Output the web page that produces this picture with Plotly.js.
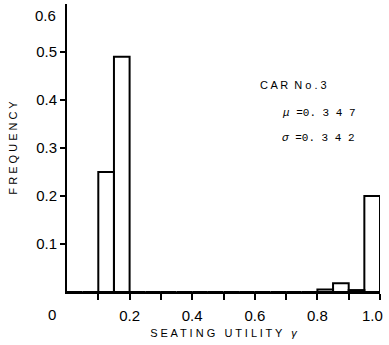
<!DOCTYPE html>
<html>
<head>
<meta charset="utf-8">
<script src="https://cdn.plot.ly/plotly-3.0.1.min.js"></script>
<style>html,body{margin:0;padding:0;background:#fff;}#chart{width:389px;height:345px;}</style>
</head>
<body>
<div id="chart"></div>
<script>
// Bin centres of seating utility gamma (bin width 0.05)
const binCenters = [0.025,0.075,0.125,0.175,0.225,0.275,0.325,0.375,0.425,0.475,
                    0.525,0.575,0.625,0.675,0.725,0.775,0.825,0.875,0.925,0.975];
const frequency  = [0,0,0.25,0.49,0,0,0,0,0,0,
                    0,0,0,0,0,0,0.005,0.018,0.004,0.2];
const binWidth = 0.05;

const xTickVals = [0.1,0.2,0.3,0.4,0.5,0.6,0.7,0.8,0.9,1.0];
const xTickText = ["","0.2","","0.4","","0.6","","0.8","",""];
const xEndLabel = "1.0";
const yTickVals = [0.1,0.2,0.3,0.4,0.5];
const yTickText = ["0.1","0.2","0.3","0.4","0.5"];
const yTopLabel = "0.6";

const sans = "Liberation Sans, Arial, sans-serif";
const mono = "Liberation Mono, DejaVu Sans Mono, monospace";

const trace = {
  type: "bar",
  x: binCenters,
  y: frequency,
  width: binCenters.map(() => binWidth),
  marker: {color: "rgba(0,0,0,0)", line: {color: "#000", width: 2}},
  hoverinfo: "skip"
};

const layout = {
  width: 389, height: 345,
  margin: {l: 67, r: 9, t: 4, b: 53},
  paper_bgcolor: "#fff", plot_bgcolor: "#fff",
  showlegend: false,
  bargap: 0,
  font: {family: sans, color: "#000"},
  xaxis: {
    range: [0, 1.0], showgrid: false, zeroline: false,
    showline: true, linecolor: "#000", linewidth: 2,
    tickmode: "array", tickvals: xTickVals, ticktext: xTickText,
    ticks: "outside", ticklen: 6, tickwidth: 2, tickcolor: "#000",
    ticklabelstandoff: 3,
    tickfont: {family: sans, size: 15, color: "#000"},
    title: {text: "S E A T I N G &nbsp; U T I L I T Y &nbsp; <i>γ</i>", font: {family: sans, size: 11, color: "#000"}, standoff: 6}
  },
  yaxis: {
    range: [0, 0.6], showgrid: false, zeroline: false,
    showline: true, linecolor: "#000", linewidth: 2,
    tickmode: "array", tickvals: yTickVals, ticktext: yTickText,
    ticks: "outside", ticklen: 5, tickwidth: 2, tickcolor: "#000",
    tickfont: {family: sans, size: 15, color: "#000"},
    title: {text: "F R E Q U E N C Y", font: {family: sans, size: 11, color: "#000"}, standoff: 16}
  },
  annotations: [
    {xref: "paper", yref: "paper", x: -0.03, y: -0.04, xanchor: "right", yanchor: "top",
     text: "0", showarrow: false, font: {family: sans, size: 15, color: "#000"}},
    {xref: "paper", yref: "paper", x: 1.016, y: -0.08, xanchor: "right", yanchor: "middle",
     text: xEndLabel, showarrow: false, font: {family: sans, size: 15, color: "#000"}},
    {xref: "paper", yref: "paper", x: -0.03, y: 0.96, xanchor: "right", yanchor: "middle",
     text: yTopLabel, showarrow: false, font: {family: sans, size: 15, color: "#000"}},
    {xref: "paper", yref: "paper", x: 0.61, y: 0.72, xanchor: "left", yanchor: "middle",
     text: "C A R &nbsp;N o . 3", showarrow: false, font: {family: sans, size: 11, color: "#000"}},
    {xref: "paper", yref: "paper", x: 0.68, y: 0.623, xanchor: "left", yanchor: "middle",
     text: "<i>μ</i> =0. 3 4 7", showarrow: false, font: {family: mono, size: 11, color: "#000"}},
    {xref: "paper", yref: "paper", x: 0.68, y: 0.533, xanchor: "left", yanchor: "middle",
     text: "<i>σ</i> =0. 3 4 2", showarrow: false, font: {family: mono, size: 11, color: "#000"}}
  ]
};

Plotly.newPlot("chart", [trace], layout, {displayModeBar: false, staticPlot: true});
</script>
</body>
</html>
